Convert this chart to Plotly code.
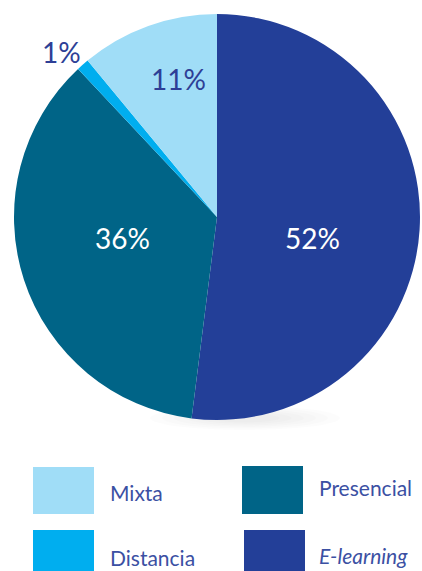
import plotly.graph_objects as go

# Share of training by modality (%)
categories = ["E-learning", "Presencial", "Distancia", "Mixta"]
values = [52, 36, 1, 11]
colors = ["#233F98", "#006487", "#00AEEF", "#A0DDF7"]
label_colors = ["white", "white", "#2E3F96", "#2E3F96"]

W, H = 422, 571
FONT = "Lato"

fig = go.Figure()
fig.add_trace(go.Pie(
    labels=categories,
    values=values,
    sort=False,
    direction="clockwise",
    rotation=0,
    marker=dict(colors=colors, line=dict(width=0)),
    textinfo="none",
    hoverinfo="label+percent",
    showlegend=False,
    domain=dict(x=[12 / W, 1.0], y=[1 - 420 / H, 1 - 14 / H]),
))

def px(x, y):
    return x / W, 1 - y / H

# Soft drop shadow under the pie, built from stacked faint ellipses
for i in range(6):
    hw, hh = 95 - i * 12, 12 - i * 1.5
    cx, cy = 245, 418
    fig.add_shape(type="circle", xref="paper", yref="paper", layer="below",
                  x0=(cx - hw) / W, x1=(cx + hw) / W,
                  y0=1 - (cy + hh) / H, y1=1 - (cy - hh) / H,
                  fillcolor="rgba(0,0,0,0.012)", line=dict(width=0))

# Percentage labels placed on / near their slices
label_pos = {"E-learning": (312, 238), "Presencial": (122, 238),
             "Distancia": (62, 52), "Mixta": (178, 79)}
for cat, v, c in zip(categories, values, label_colors):
    x, y = px(*label_pos[cat])
    fig.add_annotation(x=x, y=y, xref="paper", yref="paper",
                       text=f"{v}%", showarrow=False,
                       font=dict(family=FONT, size=28, color=c),
                       xanchor="center", yanchor="middle")

# Legend: colour swatches with text, in two columns
legend_items = {
    "Mixta": ((33, 467, 94, 514), (108, 492), False),
    "Presencial": ((242, 466, 303, 514), (317, 487), False),
    "Distancia": ((33, 530, 94, 575), (108, 557), False),
    "E-learning": ((244, 530, 305, 575), (317, 555), True),
}
for cat, col in zip(categories, colors):
    (x0, y0, x1, y1), (tx, ty), italic = legend_items[cat]
    fig.add_shape(type="rect", xref="paper", yref="paper",
                  x0=x0 / W, x1=x1 / W, y0=1 - y1 / H, y1=1 - y0 / H,
                  fillcolor=col, line=dict(width=0))
    txt = f"<i>{cat}</i>" if italic else cat
    fig.add_annotation(x=tx / W, y=1 - ty / H, xref="paper", yref="paper",
                       text=txt, showarrow=False, xanchor="left", yanchor="middle",
                       font=dict(family=FONT, size=21, color="#3B50A3"))

fig.update_layout(
    width=W, height=H,
    margin=dict(l=0, r=0, t=0, b=0),
    paper_bgcolor="white", plot_bgcolor="white",
)

fig.write_html("out.html", config={"displayModeBar": False})
